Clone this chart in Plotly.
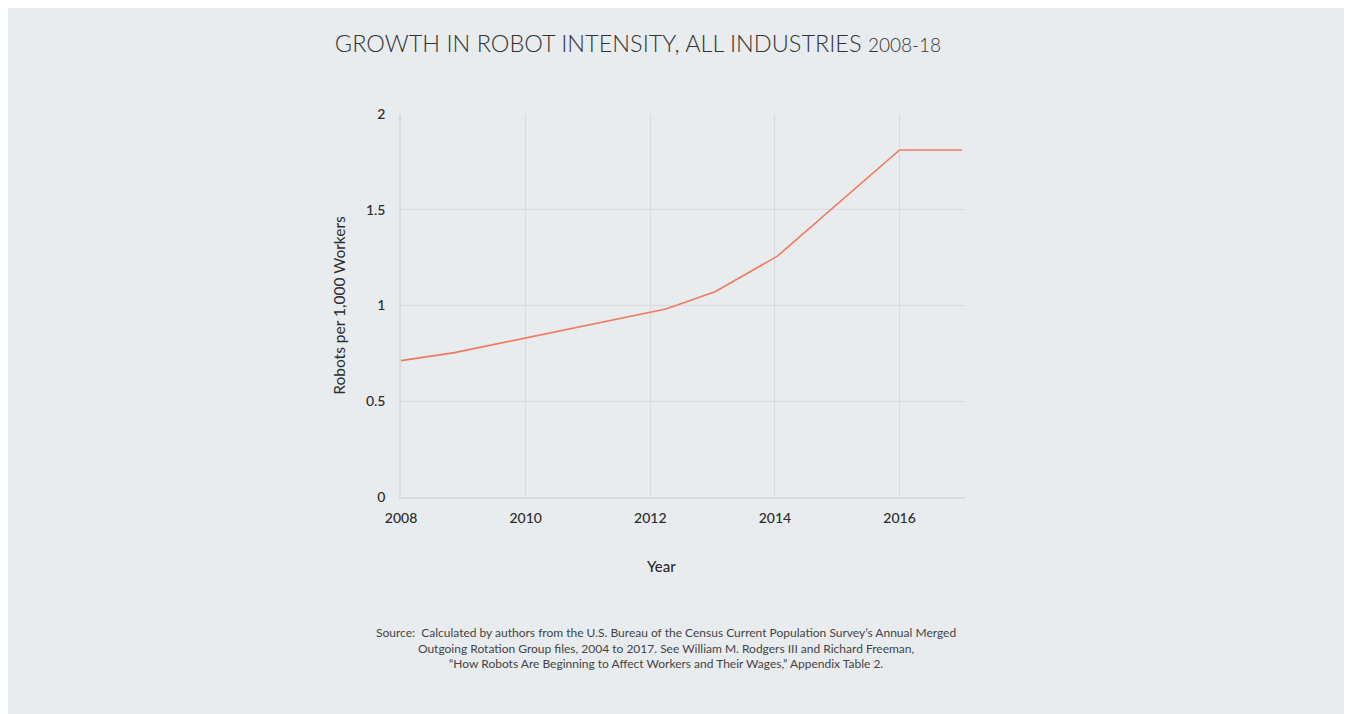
import plotly.graph_objects as go

# Data
years = [2008, 2008.86, 2012.25, 2013.04, 2014.04, 2016.0, 2017.0]
robots_per_1000 = [0.712, 0.754, 0.982, 1.072, 1.258, 1.812, 1.812]

x_ticks = [2008, 2010, 2012, 2014, 2016]
y_ticks = [0, 0.5, 1, 1.5, 2]
y_tick_labels = ["0", "0.5", "1", "1.5", "2"]

title_main = "GROWTH IN ROBOT INTENSITY, ALL INDUSTRIES"
title_years = "2008-18"
x_title = "Year"
y_title = "Robots per 1,000 Workers"
source_lines = [
    "Source:  Calculated by authors from the U.S. Bureau of the Census Current Population Survey\u2019s Annual Merged",
    "Outgoing Rotation Group files, 2004 to 2017. See William M. Rodgers III and Richard Freeman,",
    "\u201cHow Robots Are Beginning to Affect Workers and Their Wages,\u201d Appendix Table 2.",
]

BG = "#e9ecee"
GRID = "#d8dbdd"
FONT = "Lato, 'Open Sans', sans-serif"
OFF = 8  # page body margin

fig = go.Figure()
fig.add_trace(go.Scatter(
    x=years, y=robots_per_1000, mode="lines",
    line=dict(color="#ef7a5e", width=1.6),
    hoverinfo="x+y", showlegend=False,
))

L, T, PW, PH = 401 - OFF, 114 - OFF, 564, 383
fig.update_layout(
    width=1352, height=714,
    paper_bgcolor=BG, plot_bgcolor=BG,
    margin=dict(l=L, r=1352 - L - PW, t=T, b=714 - T - PH),
    font=dict(family=FONT, color="#2b2b2b"),
    title=dict(
        text=f"{title_main} <span style='font-size:19px'>{title_years}</span>",
        x=(638 - OFF) / 1352, xanchor="center", xref="container",
        y=1 - (44 - OFF) / 714, yanchor="middle", yref="container",
        font=dict(family=FONT, size=23.5, color="#333333", weight=300),
    ),
    xaxis=dict(
        range=[2008, 2017.05], tickvals=x_ticks,
        ticktext=[str(t) for t in x_ticks],
        showgrid=True, gridcolor=GRID, gridwidth=1,
        showline=True, linecolor=GRID, linewidth=1.5,
        zeroline=False,
        ticks="outside", ticklen=7, tickcolor="rgba(0,0,0,0)",
        tickfont=dict(size=14, color="#2b2b2b", weight=500),
    ),
    yaxis=dict(
        range=[0, 2], tickvals=y_ticks, ticktext=y_tick_labels,
        showgrid=True, gridcolor=GRID, gridwidth=1,
        showline=True, linecolor=GRID, linewidth=1.5,
        zeroline=False,
        ticks="outside", ticklen=11, tickcolor="rgba(0,0,0,0)",
        tickfont=dict(size=14, color="#2b2b2b", weight=500),
        title=dict(text=y_title, standoff=16,
                   font=dict(size=15.5, color="#2b2b2b", weight=400)),
    ),
    annotations=[
        dict(
            text=x_title, xref="paper", yref="paper",
            x=(661 - 401) / 564, y=(497 - 566) / 383,
            xanchor="center", yanchor="middle", showarrow=False,
            font=dict(family=FONT, size=15, color="#2b2b2b", weight=500),
        ),
        dict(
            text="<br>".join(source_lines),
            xref="paper", yref="paper",
            x=(666 - 401) / 564, y=(497 - 648) / 383,
            xanchor="center", yanchor="middle", align="center",
            showarrow=False,
            font=dict(family=FONT, size=12, color="#444444"),
        ),
    ],
)

fig.write_html("out.html")
